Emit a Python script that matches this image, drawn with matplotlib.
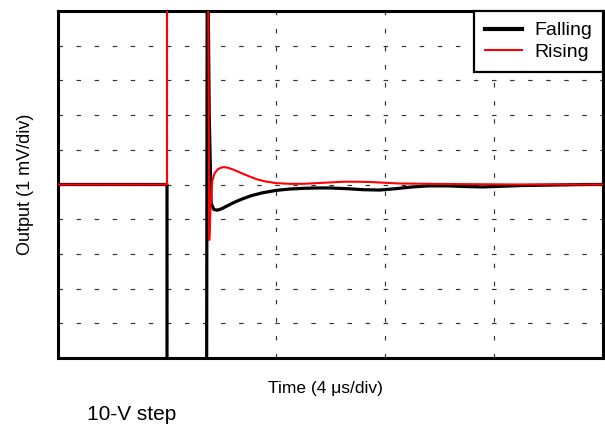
import numpy as np
import matplotlib
matplotlib.use("Agg")
from matplotlib import pyplot as plt

plt.rcParams['font.family'] = ['Liberation Sans', 'DejaVu Sans']

# time in us, output in mV (values outside +-5 are off-screen / clipped)
t_fall = [0, 4.0, 4.0, 5.45, 5.48, 5.55, 5.62, 5.72, 5.85, 6.0, 6.2, 6.45, 6.75,
          7.1, 7.5, 8.0, 8.5, 9.0, 9.5, 10.0, 10.6, 11.2, 11.8, 12.4, 13.0, 13.6,
          14.3, 15.0, 15.6, 16.3, 17.0, 17.8, 18.6, 19.4, 20.0]
v_fall = [0, 0, -8, -8, 8, 2.0, -0.55, -0.72, -0.74, -0.7, -0.62, -0.52, -0.42,
          -0.32, -0.24, -0.17, -0.13, -0.11, -0.1, -0.1, -0.12, -0.15, -0.16, -0.12, -0.07, -0.04,
          -0.04, -0.06, -0.07, -0.05, -0.03, -0.02, -0.01, 0.0, 0.0]

t_rise = [0, 4.0, 4.0, 5.50, 5.55, 5.60, 5.66, 5.75, 5.88, 6.05, 6.2, 6.4, 6.7,
          7.0, 7.3, 7.6, 8.0, 8.5, 9.0, 9.5, 10.0, 10.5, 11.0, 11.5, 12.0, 12.5,
          13.5, 15.0, 17.0, 20.0]
v_rise = [0, 0, 8, 8, -1.6, -0.6, 0.1, 0.33, 0.45, 0.5, 0.49, 0.44, 0.34,
          0.24, 0.15, 0.09, 0.04, 0.02, 0.02, 0.04, 0.06, 0.08, 0.08, 0.07, 0.05, 0.03,
          0.02, 0.01, 0.0, 0.0]

x_ticks = [0, 4, 8, 12, 16, 20]
y_ticks = [-5, -4, -3, -2, -1, 0, 1, 2, 3, 4, 5]

fig = plt.figure(figsize=(6.05, 4.28), dpi=100)
ax = fig.add_axes([58/605, 1-358/428, 545/605, 347/428])

ax.plot(t_fall, v_fall, color='black', lw=2.3, label='Falling', zorder=3)
ax.plot(t_rise, v_rise, color='#ff0000', lw=1.5, label='Rising', zorder=4)

ax.set_xlim(0, 20)
ax.set_ylim(-5, 5)
ax.set_xticks(x_ticks)
ax.set_yticks(y_ticks)
ax.set_xticklabels([])
ax.set_yticklabels([])
ax.tick_params(axis='both', direction='in', length=0)
ax.grid(True, color='#333333', lw=0.85, ls=(0, (3.8, 11.5)))

for s in ax.spines.values():
    s.set_linewidth(2.2)

ax.set_xlabel('Time (4 μs/div)', fontsize=12.5)
ax.xaxis.set_label_coords(0.491, -0.065, transform=ax.transAxes)
ax.set_ylabel('Output (1 mV/div)', fontsize=13, labelpad=14)

leg = ax.legend(loc='upper right', borderaxespad=0, fancybox=False, framealpha=1,
                edgecolor='black', fontsize=14, handlelength=1.9, handletextpad=0.65,
                borderpad=0.55, labelspacing=0.2)
leg.get_frame().set_linewidth(1.6)
leg.get_lines()[0].set_linewidth(3)

fig.text(87/605, 1-414/428, '10-V step', fontsize=15, va='center', ha='left')

fig.savefig('out.png', dpi=100)
